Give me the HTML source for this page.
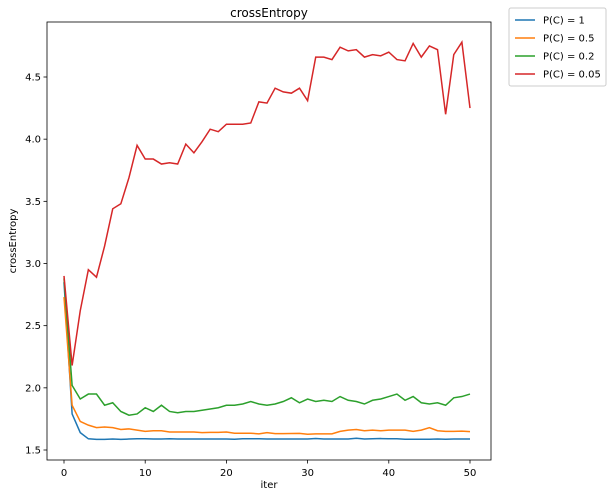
<!DOCTYPE html>
<html><head><meta charset="utf-8"><style>
body{margin:0;background:#fff;font-family:"Liberation Sans","DejaVu Sans",sans-serif}
</style></head><body>
<svg width="613" height="496" xmlns="http://www.w3.org/2000/svg" font-family="DejaVu Sans, Liberation Sans, sans-serif">
<g id="plot"></g>
</svg>
<script>
const iters=[...Array(51).keys()];
const red=[2.9,2.18,2.62,2.95,2.89,3.14,3.44,3.48,3.69,3.95,3.84,3.84,3.80,3.81,3.80,3.96,3.89,3.98,4.08,4.06,4.12,4.12,4.12,4.13,4.30,4.29,4.41,4.38,4.37,4.41,4.31,4.66,4.66,4.64,4.74,4.71,4.72,4.66,4.68,4.67,4.70,4.64,4.63,4.77,4.66,4.75,4.72,4.20,4.68,4.78,4.25];
const green=[2.88,2.02,1.91,1.95,1.95,1.86,1.88,1.81,1.78,1.79,1.84,1.81,1.86,1.81,1.80,1.81,1.81,1.82,1.83,1.84,1.86,1.86,1.87,1.89,1.87,1.86,1.87,1.89,1.92,1.88,1.91,1.89,1.90,1.89,1.93,1.90,1.89,1.87,1.90,1.91,1.93,1.95,1.90,1.93,1.88,1.87,1.88,1.86,1.92,1.93,1.95];
const orange=[2.73,1.86,1.73,1.70,1.68,1.685,1.68,1.665,1.67,1.66,1.65,1.655,1.655,1.645,1.645,1.645,1.645,1.64,1.642,1.642,1.645,1.635,1.635,1.635,1.63,1.64,1.632,1.632,1.633,1.634,1.627,1.63,1.63,1.63,1.65,1.66,1.665,1.655,1.66,1.655,1.66,1.66,1.66,1.65,1.66,1.68,1.655,1.65,1.65,1.652,1.648];
const blue=[2.85,1.79,1.64,1.59,1.585,1.585,1.588,1.585,1.588,1.59,1.59,1.588,1.588,1.59,1.588,1.588,1.588,1.588,1.588,1.588,1.588,1.586,1.59,1.59,1.59,1.588,1.588,1.588,1.588,1.588,1.588,1.592,1.588,1.588,1.588,1.588,1.594,1.588,1.59,1.592,1.59,1.59,1.586,1.586,1.586,1.586,1.588,1.586,1.588,1.588,1.588];
const xTicks=[0,10,20,30,40,50];
const yTicks=[1.5,2.0,2.5,3.0,3.5,4.0,4.5];
const series=[{n:'P(C) = 1',d:blue,c:'#1f77b4'},{n:'P(C) = 0.5',d:orange,c:'#ff7f0e'},{n:'P(C) = 0.2',d:green,c:'#2ca02c'},{n:'P(C) = 0.05',d:red,c:'#d62728'}];
const L=47,R=491,T=22,B=460;
const X=v=>64+v*(470-64)/50;
const Y=v=>450-(v-1.5)*(450-77)/3;
const g=document.getElementById('plot');const NS='http://www.w3.org/2000/svg';
function mk(t,a,txt){const e=document.createElementNS(NS,t);for(const k in a)e.setAttribute(k,a[k]);if(txt!==undefined)e.textContent=txt;g.appendChild(e);return e;}
series.forEach((s,i)=>{const p=mk('polyline',{points:s.d.map((v,j)=>X(iters[j])+','+Y(v)).join(' '),fill:'none',stroke:s.c,'stroke-width':1.5});

});
const fr=mk('rect',{x:L,y:T,width:R-L,height:B-T,fill:'none',stroke:'#000','stroke-width':0.8});

xTicks.forEach(v=>{mk('line',{x1:X(v),x2:X(v),y1:B,y2:B+3.5,stroke:'#000','stroke-width':0.8});
const t=mk('text',{x:X(v),y:B+16,'font-size':10,'text-anchor':'middle'},String(v));
});
yTicks.forEach(v=>{mk('line',{x1:L-3.5,x2:L,y1:Y(v),y2:Y(v),stroke:'#000','stroke-width':0.8});
const t=mk('text',{x:L-6,y:Y(v)+3.5,'font-size':10,'text-anchor':'end'},v.toFixed(1));
});
let t=mk('text',{x:269,y:17,'font-size':12,'text-anchor':'middle'},'crossEntropy');

t=mk('text',{x:269,y:488,'font-size':10,'text-anchor':'middle'},'iter');

t=mk('text',{x:16,y:241,'font-size':10,'text-anchor':'middle',transform:'rotate(-90 16 241)'},'crossEntropy');

const lg=mk('rect',{x:509,y:8,width:97,height:78,fill:'#fff',stroke:'#ccc',rx:2});

series.forEach((s,i)=>{const y=20+i*18;mk('line',{x1:515,x2:535,y1:y,y2:y,stroke:s.c,'stroke-width':1.5});
const e=mk('text',{x:543,y:y+3.5,'font-size':10},s.n);
});
</script>
</body></html>
